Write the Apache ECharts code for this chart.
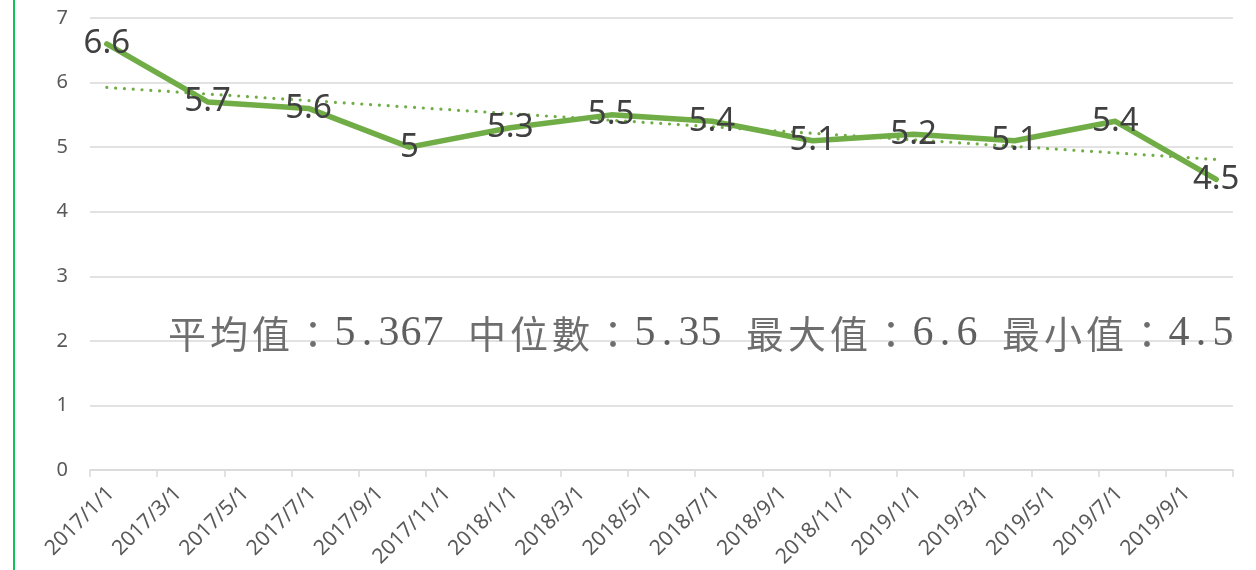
<!DOCTYPE html>
<html>
<head>
<meta charset="utf-8">
<title>折線圖</title>
<script src="https://cdn.jsdelivr.net/npm/echarts@6/dist/echarts.min.js"></script>
<style>
    html, body { margin: 0; padding: 0; background: #ffffff; }
    #chart { width: 1256px; height: 570px; }
</style>
</head>
<body>
<div id="chart"></div>
<script>
// 資料（每季一筆）
const dates = ["2017/1", "2017/4", "2017/7", "2017/10", "2018/1", "2018/4", "2018/7", "2018/10", "2019/1", "2019/4", "2019/7", "2019/10"];
const values = [6.6, 5.7, 5.6, 5, 5.3, 5.5, 5.4, 5.1, 5.2, 5.1, 5.4, 4.5];

// X 軸刻度文字（每兩個月）
const xTickLabels = ["2017/1/1", "2017/3/1", "2017/5/1", "2017/7/1", "2017/9/1", "2017/11/1", "2018/1/1", "2018/3/1", "2018/5/1", "2018/7/1", "2018/9/1", "2018/11/1", "2019/1/1", "2019/3/1", "2019/5/1", "2019/7/1", "2019/9/1"];
const yTicks = [0, 1, 2, 3, 4, 5, 6, 7];

// 統計文字
const statParts = [
    ["平均值：", "5.367"],
    ["中位數：", "5.35"],
    ["最大值：", "6.6"],
    ["最小值：", "4.5"],
];

const green = "#70ad47";
const axisMonths = 34; // 2017/1/1 ~ 2019/11/1

// 日期 -> 距 2017/1 的月數（點放在該月中間，同 Excel 日期軸）
const toMonth = (d) => {
    const [y, m] = d.split("/").map(Number);
    return (y - 2017) * 12 + (m - 1) + 0.5;
};

const lineData = dates.map((d, i) => [toMonth(d), values[i]]);

// 線性趨勢線（最小平方法）
const getTrend = () => {
    const xs = lineData.map((p) => p[0]);
    const n = xs.length;
    const mx = xs.reduce((a, b) => a + b, 0) / n;
    const my = values.reduce((a, b) => a + b, 0) / n;
    let sxy = 0;
    let sxx = 0;
    xs.forEach((x, i) => {
        sxy += (x - mx) * (values[i] - my);
        sxx += (x - mx) * (x - mx);
    });
    const k = sxy / sxx;
    const b = my - k * mx;
    return [xs[0], xs[n - 1]].map((x) => [x, k * x + b]);
};

// 每個字一格（像細明體：中文全形、數字半形）
const cells = (str, style) => str.split("").map((ch) => "{" + style + "|" + ch + "}").join("");
const statText = statParts
    .map((p) => cells(p[0], "c") + cells(p[1], "d"))
    .join("{s| }");

const chart = echarts.init(document.getElementById("chart"));

chart.setOption({
    animation: false,
    grid: [
        { left: 90, width: 1143, top: 18, bottom: 100 },
        // 只用來放 X 軸文字（往右移一點）
        { left: 111, width: 1143, top: 18, bottom: 100 },
    ],
    xAxis: [
        {
            type: "value",
            gridIndex: 0,
            min: 0,
            max: axisMonths,
            interval: 2,
            axisLine: { show: true, lineStyle: { color: "#d9d9d9", width: 1.5 } },
            axisTick: { show: true, length: 7, lineStyle: { color: "#d9d9d9", width: 1.5 } },
            axisLabel: { show: false },
            splitLine: { show: false },
        },
        {
            type: "value",
            gridIndex: 1,
            min: 0,
            max: axisMonths,
            interval: 2,
            axisLine: { show: false },
            axisTick: { show: false },
            splitLine: { show: false },
            axisLabel: {
                rotate: 45,
                margin: 48,
                fontSize: 21,
                color: "#595959",
                fontFamily: "Noto Sans",
                formatter: (v) => xTickLabels[Math.round(v / 2)] || "",
            },
        },
    ],
    yAxis: [
        {
            type: "value",
            gridIndex: 0,
            min: yTicks[0],
            max: yTicks[yTicks.length - 1],
            interval: 1,
            axisLine: { show: false },
            axisTick: { show: false },
            axisLabel: {
                margin: 22,
                fontSize: 20,
                color: "#595959",
                fontFamily: "Noto Sans",
            },
            splitLine: { lineStyle: { color: "#d9d9d9", width: 1.5 } },
        },
        {
            type: "value",
            gridIndex: 1,
            min: 0,
            max: 7,
            show: false,
        },
    ],
    series: [
        {
            name: "趨勢線",
            type: "line",
            data: getTrend(),
            symbol: "none",
            silent: true,
            z: 1,
            lineStyle: { color: green, width: 3.2, type: [0.01, 8.8], cap: "round" },
        },
        {
            name: "數值",
            type: "line",
            data: lineData,
            // 標籤要掛在 symbol 上，所以留一個看不見的點
            symbol: "circle",
            symbolSize: 0.1,
            showSymbol: true,
            itemStyle: { color: "rgba(0,0,0,0)" },
            z: 2,
            lineStyle: { color: green, width: 5.5, join: "round", cap: "round" },
            label: {
                show: true,
                position: "inside",
                offset: [0, 6],
                fontSize: 33,
                color: "#404040",
                opacity: 1,
                fontFamily: "Noto Sans",
                formatter: (p) => String(p.value[1]),
            },
            labelLayout: { hideOverlap: false },
        },
    ],
    graphic: [
        {
            type: "line",
            shape: { x1: 14, y1: 0, x2: 14, y2: 570 },
            style: { stroke: "#13c35a", lineWidth: 2 },
        },
        {
            type: "text",
            left: 166,
            top: 313,
            z: 10,
            style: {
                text: statText,
                rich: {
                    c: { fontSize: 38, fontFamily: "Noto Sans CJK TC", fill: "#6e6e6e", width: 42, align: "center", lineHeight: 46, verticalAlign: "middle" },
                    d: { fontSize: 42, fontFamily: "Liberation Serif", fill: "#5f5f5f", width: 22, align: "center", lineHeight: 46, verticalAlign: "middle" },
                    s: { fontSize: 40, width: 22, lineHeight: 46 },
                },
            },
        },
    ],
});
</script>
</body>
</html>
